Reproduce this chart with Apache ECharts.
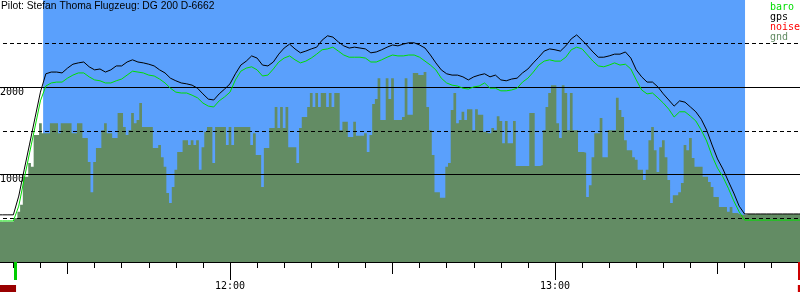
<!DOCTYPE html>
<html><head><meta charset="utf-8">
<script src="https://cdn.jsdelivr.net/npm/echarts@6/dist/echarts.min.js"></script>
<style>html,body{margin:0;padding:0;background:#fff}#c{width:800px;height:300px}</style>
</head><body><div id="c"></div>
<script>
const titleText = 'Pilot: Stefan Thoma Flugzeug: DG 200 D-6662';
const legendNames = ['baro', 'gps', 'noise', 'gnd'];
const xTickLabels = ['12:00', '13:00'];
const yTickLabels = ['1000', '2000'];

// one-minute samples of the two altitude traces
const lineTimes = [
 '11:17','11:18','11:19','11:20','11:21','11:22','11:23','11:24','11:25','11:26',
 '11:27','11:28','11:29','11:30','11:31','11:32','11:33','11:34','11:35','11:36',
 '11:37','11:38','11:39','11:40','11:41','11:42','11:43','11:44','11:45','11:46',
 '11:47','11:48','11:49','11:50','11:51','11:52','11:53','11:54','11:55','11:56',
 '11:57','11:58','11:59','12:00','12:01','12:02','12:03','12:04','12:05','12:06',
 '12:07','12:08','12:09','12:10','12:11','12:12','12:13','12:14','12:15','12:16',
 '12:17','12:18','12:19','12:20','12:21','12:22','12:23','12:24','12:25','12:26',
 '12:27','12:28','12:29','12:30','12:31','12:32','12:33','12:34','12:35','12:36',
 '12:37','12:38','12:39','12:40','12:41','12:42','12:43','12:44','12:45','12:46',
 '12:47','12:48','12:49','12:50','12:51','12:52','12:53','12:54','12:55','12:56',
 '12:57','12:58','12:59','13:00','13:01','13:02','13:03','13:04','13:05','13:06',
 '13:07','13:08','13:09','13:10','13:11','13:12','13:13','13:14','13:15','13:16',
 '13:17','13:18','13:19','13:20','13:21','13:22','13:23','13:24','13:25','13:26',
 '13:27','13:28','13:29','13:30','13:31','13:32','13:33','13:34','13:35','13:36',
 '13:37','13:38','13:39','13:40','13:41','13:42','13:43','13:44','13:45','13:46'
];
const gpsAlt = [
 540,540,540,540,755,1055,1350,1650,1945,2155,
 2175,2175,2165,2220,2265,2280,2290,2235,2200,2210,
 2175,2200,2245,2245,2290,2315,2290,2280,2265,2245,
 2200,2165,2105,2075,2050,2040,2025,1990,1925,1865,
 1855,1925,1980,2040,2155,2255,2300,2360,2335,2255,
 2245,2290,2380,2450,2495,2440,2395,2415,2440,2460,
 2540,2590,2575,2520,2475,2450,2460,2450,2440,2395,
 2405,2430,2460,2485,2475,2495,2510,2510,2485,2450,
 2370,2280,2200,2155,2140,2140,2120,2085,2120,2140,
 2155,2120,2140,2085,2075,2095,2105,2165,2210,2280,
 2345,2415,2440,2430,2415,2475,2555,2600,2540,2475,
 2405,2345,2345,2360,2380,2380,2405,2335,2200,2120,
 2060,2060,2005,1925,1855,1785,1845,1830,1775,1720,
 1635,1510,1340,1180,1065,925,790,640,550,550,
 550,550,550,550,550,550,550,550,550,550
];
const baroAlt = [
 470,470,470,470,640,950,1250,1545,1845,2015,
 2050,2060,2060,2105,2140,2165,2165,2120,2085,2075,
 2050,2050,2075,2095,2140,2185,2175,2165,2140,2130,
 2095,2050,1990,1945,1935,1935,1910,1880,1820,1785,
 1775,1845,1890,1945,2085,2185,2220,2235,2200,2130,
 2140,2210,2290,2335,2360,2315,2280,2300,2335,2380,
 2430,2440,2460,2415,2370,2345,2345,2345,2335,2290,
 2290,2315,2345,2370,2360,2360,2370,2370,2345,2300,
 2255,2200,2105,2050,2025,2015,1990,1980,2005,2015,
 2050,1990,1990,1960,1960,1970,1990,2060,2105,2175,
 2255,2300,2315,2300,2300,2345,2430,2460,2440,2370,
 2300,2245,2235,2255,2280,2255,2265,2210,2085,1970,
 1925,1935,1880,1820,1750,1660,1720,1720,1670,1615,
 1510,1385,1215,1075,975,845,700,575,480,480,
 480,480,480,480,480,480,480,480,480,480
];

// half-minute samples of the filled ground/noise profile
const gndTimes = [
 '11:17:00','11:17:30','11:18:00','11:18:30','11:19:00','11:19:30','11:20:00','11:20:30','11:21:00','11:21:30',
 '11:22:00','11:22:30','11:23:00','11:23:30','11:24:00','11:24:30','11:25:00','11:25:30','11:26:00','11:26:30',
 '11:27:00','11:27:30','11:28:00','11:28:30','11:29:00','11:29:30','11:30:00','11:30:30','11:31:00','11:31:30',
 '11:32:00','11:32:30','11:33:00','11:33:30','11:34:00','11:34:30','11:35:00','11:35:30','11:36:00','11:36:30',
 '11:37:00','11:37:30','11:38:00','11:38:30','11:39:00','11:39:30','11:40:00','11:40:30','11:41:00','11:41:30',
 '11:42:00','11:42:30','11:43:00','11:43:30','11:44:00','11:44:30','11:45:00','11:45:30','11:46:00','11:46:30',
 '11:47:00','11:47:30','11:48:00','11:48:30','11:49:00','11:49:30','11:50:00','11:50:30','11:51:00','11:51:30',
 '11:52:00','11:52:30','11:53:00','11:53:30','11:54:00','11:54:30','11:55:00','11:55:30','11:56:00','11:56:30',
 '11:57:00','11:57:30','11:58:00','11:58:30','11:59:00','11:59:30','12:00:00','12:00:30','12:01:00','12:01:30',
 '12:02:00','12:02:30','12:03:00','12:03:30','12:04:00','12:04:30','12:05:00','12:05:30','12:06:00','12:06:30',
 '12:07:00','12:07:30','12:08:00','12:08:30','12:09:00','12:09:30','12:10:00','12:10:30','12:11:00','12:11:30',
 '12:12:00','12:12:30','12:13:00','12:13:30','12:14:00','12:14:30','12:15:00','12:15:30','12:16:00','12:16:30',
 '12:17:00','12:17:30','12:18:00','12:18:30','12:19:00','12:19:30','12:20:00','12:20:30','12:21:00','12:21:30',
 '12:22:00','12:22:30','12:23:00','12:23:30','12:24:00','12:24:30','12:25:00','12:25:30','12:26:00','12:26:30',
 '12:27:00','12:27:30','12:28:00','12:28:30','12:29:00','12:29:30','12:30:00','12:30:30','12:31:00','12:31:30',
 '12:32:00','12:32:30','12:33:00','12:33:30','12:34:00','12:34:30','12:35:00','12:35:30','12:36:00','12:36:30',
 '12:37:00','12:37:30','12:38:00','12:38:30','12:39:00','12:39:30','12:40:00','12:40:30','12:41:00','12:41:30',
 '12:42:00','12:42:30','12:43:00','12:43:30','12:44:00','12:44:30','12:45:00','12:45:30','12:46:00','12:46:30',
 '12:47:00','12:47:30','12:48:00','12:48:30','12:49:00','12:49:30','12:50:00','12:50:30','12:51:00','12:51:30',
 '12:52:00','12:52:30','12:53:00','12:53:30','12:54:00','12:54:30','12:55:00','12:55:30','12:56:00','12:56:30',
 '12:57:00','12:57:30','12:58:00','12:58:30','12:59:00','12:59:30','13:00:00','13:00:30','13:01:00','13:01:30',
 '13:02:00','13:02:30','13:03:00','13:03:30','13:04:00','13:04:30','13:05:00','13:05:30','13:06:00','13:06:30',
 '13:07:00','13:07:30','13:08:00','13:08:30','13:09:00','13:09:30','13:10:00','13:10:30','13:11:00','13:11:30',
 '13:12:00','13:12:30','13:13:00','13:13:30','13:14:00','13:14:30','13:15:00','13:15:30','13:16:00','13:16:30',
 '13:17:00','13:17:30','13:18:00','13:18:30','13:19:00','13:19:30','13:20:00','13:20:30','13:21:00','13:21:30',
 '13:22:00','13:22:30','13:23:00','13:23:30','13:24:00','13:24:30','13:25:00','13:25:30','13:26:00','13:26:30',
 '13:27:00','13:27:30','13:28:00','13:28:30','13:29:00','13:29:30','13:30:00','13:30:30','13:31:00','13:31:30',
 '13:32:00','13:32:30','13:33:00','13:33:30','13:34:00','13:34:30','13:35:00','13:35:30','13:36:00','13:36:30',
 '13:37:00','13:37:30','13:38:00','13:38:30','13:39:00','13:39:30','13:40:00','13:40:30','13:41:00','13:41:30',
 '13:42:00','13:42:30','13:43:00','13:43:30','13:44:00','13:44:30','13:45:00','13:45:30','13:46:00','13:46:30'
];
const gndAlt = [
 460,460,460,460,460,460,460,505,575,655,
 975,975,1135,1090,1455,1455,1590,1475,1475,1475,
 1590,1590,1590,1475,1590,1590,1590,1590,1475,1475,
 1590,1590,1420,1420,1145,800,1145,1305,1305,1510,
 1590,1475,1475,1420,1420,1705,1705,1545,1455,1510,
 1705,1590,1625,1820,1545,1545,1545,1545,1305,1305,
 1340,1200,1090,790,675,860,1055,1260,1260,1395,
 1395,1340,1395,1340,1395,1055,1315,1490,1545,1545,
 1135,1545,1545,1545,1545,1340,1545,1340,1545,1545,
 1545,1545,1545,1545,1340,1475,1225,1225,860,1305,
 1305,1535,1535,1775,1535,1775,1535,1775,1315,1315,
 1315,1135,1535,1660,1660,1775,1935,1775,1935,1775,
 1935,1935,1775,1935,1775,1935,1935,1510,1605,1605,
 1430,1430,1605,1445,1445,1445,1475,1260,1455,1810,
 1865,2105,1625,1625,2105,1865,2105,1625,1625,1625,
 1660,2105,1685,1685,2165,2165,2140,2140,2175,1775,
 1510,1225,800,800,735,735,1090,1135,1740,1935,
 1590,1625,1720,1625,1750,1750,1510,1750,1685,1685,
 1490,1475,1475,1535,1510,1670,1615,1360,1615,1360,
 1360,1615,1100,1100,1100,1100,1100,1705,1705,1100,
 1100,1110,1510,1775,1935,2025,2025,1590,1420,2025,
 1935,1510,1935,1510,1510,1260,1260,1250,745,880,
 1200,1475,1475,1650,1200,1200,1510,1510,1510,1880,
 1740,1660,1395,1280,1280,1200,1170,1055,1055,940,
 1055,1395,1545,1280,1030,1315,1395,1200,940,675,
 765,765,800,905,1340,1280,1420,1190,1090,1090,
 1090,975,975,915,860,745,745,630,630,630,
 575,630,560,560,540,540,540,550,550,550,
 550,550,550,550,550,550,550,550,550,550,
 550,550,550,550,550,550,550,550,550,550
];

const flightStart = '11:25:30';
const flightEnd = '13:35:05';
const takeoffMark = '11:20:20';
const endMark = '13:45:03';
const preBar = ['11:00:00', '11:20:30'];
const endBar = ['13:44:50', '13:46:00'];
const solidLevels = [1000, 2000];
const dashedLevels = [500, 1500, 2500];

const toMin = s => { const p = s.split(':').map(Number); return p[0] * 60 + p[1] + (p[2] || 0) / 60; };
const fmt = v => { const h = Math.floor(v / 60), m = Math.round(v % 60); return h + ':' + String(m).padStart(2, '0'); };

const BLUE = '#5aa0fc', FILL = '#638c64', BARO = '#00dd00', MONO = 'DejaVu Sans Mono';
const GL = -95, GR = -80;

const chart = echarts.init(document.getElementById('c'), null, { renderer: 'canvas' });
const xBase = { type: 'value', min: 660, max: 840, position: 'bottom', splitLine: { show: false }, minorSplitLine: { show: false } };
chart.setOption({
  animation: false,
  backgroundColor: '#ffffff',
  title: { text: titleText, left: 0, top: 0, padding: [1, 0, 0, 1],
    textStyle: { fontFamily: 'Liberation Sans', fontSize: 10.3, fontWeight: 'normal', color: '#000' } },
  legend: { orient: 'vertical', left: 765, top: 2, itemGap: 0, itemWidth: 0, itemHeight: 10, icon: 'none',
    selectedMode: false, padding: 0,
    textStyle: { fontFamily: MONO, fontSize: 10, lineHeight: 10, padding: 0 },
    data: [
      { name: legendNames[0], textStyle: { color: BARO } },
      { name: legendNames[1], textStyle: { color: '#000' } },
      { name: legendNames[2], textStyle: { color: '#ff0000' } },
      { name: legendNames[3], textStyle: { color: FILL } }
    ] },
  grid: [
    { left: GL, right: GR, top: 0, bottom: 38, outerBoundsMode: 'none' },
    { left: GL, right: GR, top: 262, height: 30, outerBoundsMode: 'none' }
  ],
  xAxis: [
    Object.assign({}, xBase, { gridIndex: 0, interval: 30,
      axisLine: { show: true, onZero: false, lineStyle: { color: '#000', width: 1 } },
      axisTick: { show: true, length: 12, lineStyle: { color: '#000', width: 1 } },
      minorTick: { show: true, splitNumber: 6, length: 6, lineStyle: { color: '#000', width: 1 } },
      axisLabel: { show: false } }),
    Object.assign({}, xBase, { gridIndex: 0, interval: 60,
      axisLine: { show: false, onZero: false },
      axisTick: { show: true, length: 18, lineStyle: { color: '#000', width: 1 } },
      axisLabel: { show: true, margin: 19, fontFamily: MONO, fontSize: 10, color: '#000',
        formatter: v => xTickLabels.includes(fmt(v)) ? fmt(v) : '' } }),
    { type: 'value', gridIndex: 1, min: 660, max: 840, show: false }
  ],
  yAxis: [
    { type: 'value', gridIndex: 0, min: 0, max: 3000, interval: 500,
      axisLine: { show: false }, axisTick: { show: false }, splitLine: { show: false },
      axisLabel: { inside: true, margin: -GL, verticalAlign: 'top', fontFamily: MONO, fontSize: 10, color: '#000',
        formatter: v => yTickLabels.includes(String(v)) ? String(v) : '' } },
    { type: 'value', gridIndex: 1, min: 0, max: 30, inverse: true, show: false }
  ],
  series: [
    { name: 'gnd', type: 'line', xAxisIndex: 0, yAxisIndex: 0, step: 'middle', symbol: 'none', z: 2,
      color: FILL, lineStyle: { width: 0 }, areaStyle: { color: FILL, opacity: 1 },
      data: gndTimes.map((t, i) => [toMin(t), gndAlt[i]]),
      markArea: { silent: true, z: 1, itemStyle: { color: BLUE }, label: { show: false },
        data: [[{ xAxis: toMin(flightStart) }, { xAxis: toMin(flightEnd) }]] },
      markLine: { silent: true, z: 3, symbol: ['none', 'none'], label: { show: false },
        lineStyle: { color: '#000', width: 1, type: 'solid' },
        data: solidLevels.map(v => ({ yAxis: v, lineStyle: { type: 'solid', color: '#000', width: 1 } }))
          .concat(dashedLevels.map(v => ({ yAxis: v, lineStyle: { type: [4, 3], color: '#000', width: 1 } }))) } },
    { name: 'baro', type: 'line', xAxisIndex: 0, yAxisIndex: 0, symbol: 'none', z: 10, color: BARO,
      lineStyle: { color: BARO, width: 1 }, data: lineTimes.map((t, i) => [toMin(t), baroAlt[i]]) },
    { name: 'gps', type: 'line', xAxisIndex: 0, yAxisIndex: 0, symbol: 'none', z: 11, color: '#000',
      lineStyle: { color: '#000', width: 1 }, data: lineTimes.map((t, i) => [toMin(t), gpsAlt[i]]) },
    { name: 'noise', type: 'line', xAxisIndex: 0, yAxisIndex: 0, symbol: 'none', color: '#ff0000', data: [] },
    { name: 'marks', type: 'line', xAxisIndex: 2, yAxisIndex: 1, symbol: 'none', data: [],
      markLine: { silent: true, symbol: ['none', 'none'], label: { show: false },
        data: [
          [{ coord: [toMin(takeoffMark), 0], lineStyle: { color: '#00cc00', width: 3, type: 'solid' } }, { coord: [toMin(takeoffMark), 18] }],
          [{ coord: [toMin(endMark), 0], lineStyle: { color: '#cc0000', width: 2, type: 'solid' } }, { coord: [toMin(endMark), 18] }]
        ] },
      markArea: { silent: true, label: { show: false },
        data: [
          [{ coord: [toMin(preBar[0]), 23], itemStyle: { color: '#990000' } }, { coord: [toMin(preBar[1]), 30] }],
          [{ coord: [toMin(endBar[0]), 23], itemStyle: { color: '#cc0000' } }, { coord: [toMin(endBar[1]), 30] }]
        ] } }
  ]
});
</script>
</body></html>
